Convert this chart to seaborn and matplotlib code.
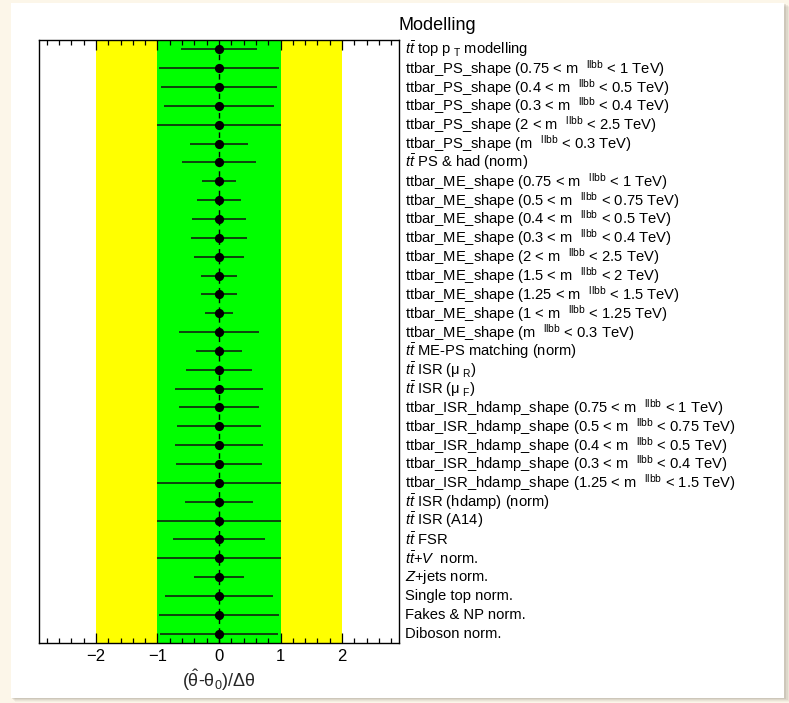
import numpy as np
import pandas as pd
import matplotlib
matplotlib.use("Agg")
import matplotlib.pyplot as plt
from matplotlib.patches import Rectangle
import seaborn as sns

# Nuisance parameters of the "Modelling" group, top to bottom
M = r"m$^{\ \ \ \mathrm{llbb}}$"
TT = r"$t\bar{t}$"
labels = [
    TT + r" top p$_{\ \mathrm{T}}$ modelling",
    "ttbar_PS_shape (0.75 < " + M + " < 1 TeV)",
    "ttbar_PS_shape (0.4 < " + M + " < 0.5 TeV)",
    "ttbar_PS_shape (0.3 < " + M + " < 0.4 TeV)",
    "ttbar_PS_shape (2 < " + M + " < 2.5 TeV)",
    "ttbar_PS_shape (" + M + " < 0.3 TeV)",
    TT + " PS & had (norm)",
    "ttbar_ME_shape (0.75 < " + M + " < 1 TeV)",
    "ttbar_ME_shape (0.5 < " + M + " < 0.75 TeV)",
    "ttbar_ME_shape (0.4 < " + M + " < 0.5 TeV)",
    "ttbar_ME_shape (0.3 < " + M + " < 0.4 TeV)",
    "ttbar_ME_shape (2 < " + M + " < 2.5 TeV)",
    "ttbar_ME_shape (1.5 < " + M + " < 2 TeV)",
    "ttbar_ME_shape (1.25 < " + M + " < 1.5 TeV)",
    "ttbar_ME_shape (1 < " + M + " < 1.25 TeV)",
    "ttbar_ME_shape (" + M + " < 0.3 TeV)",
    TT + " ME-PS matching (norm)",
    TT + r" ISR (μ$_{\ \mathrm{R}}$)",
    TT + r" ISR (μ$_{\ \mathrm{F}}$)",
    "ttbar_ISR_hdamp_shape (0.75 < " + M + " < 1 TeV)",
    "ttbar_ISR_hdamp_shape (0.5 < " + M + " < 0.75 TeV)",
    "ttbar_ISR_hdamp_shape (0.4 < " + M + " < 0.5 TeV)",
    "ttbar_ISR_hdamp_shape (0.3 < " + M + " < 0.4 TeV)",
    "ttbar_ISR_hdamp_shape (1.25 < " + M + " < 1.5 TeV)",
    TT + " ISR (hdamp) (norm)",
    TT + " ISR (A14)",
    TT + " FSR",
    TT + r"+$V$  norm.",
    r"$Z$+jets norm.",
    "Single top norm.",
    "Fakes & NP norm.",
    "Diboson norm.",
]
pulls = [0.0] * 32
errors = [0.62, 0.98, 0.95, 0.89, 1.00, 0.47, 0.60, 0.28, 0.36, 0.44,
          0.45, 0.41, 0.30, 0.30, 0.23, 0.65, 0.38, 0.54, 0.72, 0.65,
          0.68, 0.71, 0.70, 1.00, 0.55, 1.00, 0.74, 1.00, 0.41, 0.87,
          0.98, 0.96]
major_ticks = [-2, -1, 0, 1, 2]
tick_labels = ["\u22122", "\u22121", "0", "1", "2"]

df = pd.DataFrame({"label": labels, "pull": pulls, "err": errors})
df["pos"] = np.arange(len(df)) + 0.5

sns.set_theme(style="ticks")
plt.rcParams["font.family"] = ["Liberation Sans", "DejaVu Sans"]
plt.rcParams["mathtext.fontset"] = "custom"
plt.rcParams["mathtext.rm"] = "Liberation Sans"
plt.rcParams["mathtext.it"] = "Liberation Sans:italic"
plt.rcParams["mathtext.bf"] = "Liberation Sans:bold"

W, H = 789, 703
fig = plt.figure(figsize=(W / 100, H / 100), dpi=100)
fig.patch.set_facecolor("#fcf6e9")

# card with a soft shadow
for k, a in enumerate([0.05, 0.07, 0.10, 0.14]):
    off = 4 - k
    fig.patches.append(Rectangle(((11 + off) / W, (H - 698 - off) / H),
                                 (773 + off) / W, 695 / H,
                                 transform=fig.transFigure, color="#6e675c",
                                 alpha=a, lw=0, zorder=-3))
fig.patches.append(Rectangle((11 / W, (H - 698) / H), 773 / W, 695 / H,
                             transform=fig.transFigure, color="white",
                             lw=0, zorder=-2))

ax = fig.add_axes([39 / W, (H - 643) / H, 360 / W, 603 / H])
ax.set_facecolor("white")
ax.set_zorder(1)

ax.axvspan(-2, 2, color="#ffff00", lw=0, zorder=0)
ax.axvspan(-1, 1, color="#00ff00", lw=0, zorder=0)
ax.axvline(0, color="black", lw=1.0, ls=(0, (4, 3)), zorder=1)

ax.errorbar(df["pull"], df["pos"], xerr=df["err"], fmt="none",
            ecolor="#111111", elinewidth=1.1, capsize=0, zorder=2)
sns.scatterplot(data=df, x="pull", y="pos", ax=ax, color="black", s=44,
                edgecolor="black", linewidth=0, zorder=3, legend=False)

ax.set_xlim(-2.925, 2.925)
ax.set_ylim(len(df), 0)
ax.set_xticks(major_ticks)
ax.set_xticklabels(tick_labels)
ax.set_xticks(np.arange(-2.8, 2.81, 0.2), minor=True)
ax.set_yticks([])
ax.tick_params(axis="x", which="both", direction="in", top=True, bottom=True,
               colors="black", labelsize=12, pad=4, width=0.9)
ax.tick_params(axis="x", which="major", length=7.5)
ax.tick_params(axis="x", which="minor", length=3.8)
for s in ax.spines.values():
    s.set_color("black")
    s.set_linewidth(1.0)
ax.set_xlabel(r"($\hat{\mathrm{\theta}}$-$\mathrm{\theta}_{0}$)/$\mathrm{\Delta\theta}$",
              fontsize=13, labelpad=3)
ax.set_ylabel("")

tr = ax.get_yaxis_transform()
for lab, y in zip(df["label"], df["pos"]):
    ax.text(1.018, y, lab, transform=tr, ha="left", va="center",
            fontsize=10.6, color="black", clip_on=False)

fig.text(399 / W, 1 - 25 / H, "Modelling", fontsize=13, ha="left",
         va="center", color="black")

fig.savefig("out.png", dpi=100, facecolor=fig.get_facecolor())
